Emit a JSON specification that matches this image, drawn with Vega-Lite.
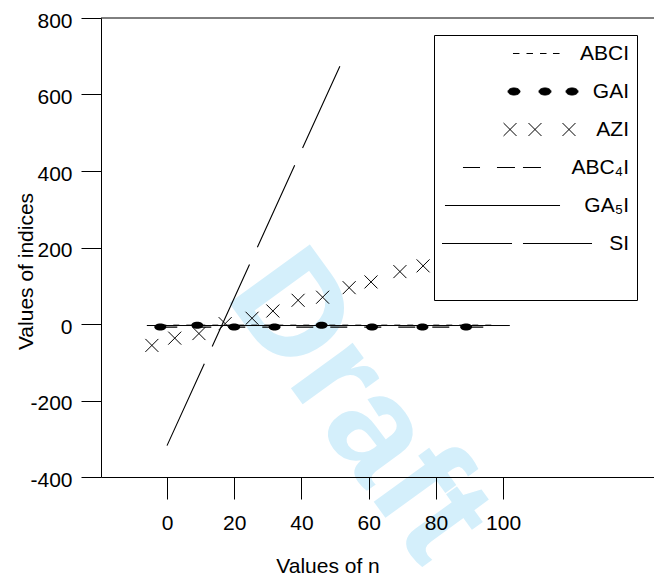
{
  "$schema": "https://vega.github.io/schema/vega-lite/v6.json",
  "width": 553,
  "height": 459,
  "autosize": {"type": "none"},
  "padding": {"left": 101, "top": 18, "right": 0, "bottom": 100},
  "background": "white",
  "config": {
    "font": "Liberation Sans",
    "view": {"stroke": null},
    "axis": {"grid": false, "domainColor": "black", "tickColor": "black", "labelColor": "black", "titleColor": "black", "labelFontSize": 21, "titleFontSize": 21, "titleFontWeight": "normal", "labelFont": "Liberation Sans", "titleFont": "Liberation Sans", "domainWidth": 1, "tickWidth": 1},
    "legend": {"orient": "top-right", "offset": 17, "padding": 8, "strokeColor": "black", "strokeWidth": 1, "fillColor": "white", "labelFontSize": 21, "labelFont": "Liberation Sans", "labelColor": "black", "labelAlign": "right", "labelOffset": 26, "symbolSize": 25600, "symbolStrokeWidth": 1, "symbolOpacity": 1, "clipHeight": 21, "rowPadding": 16, "labelLimit": 300}
  },
  "data": {"values": [
    {"series": "ABCI", "n": -2, "value": -3}, {"series": "ABCI", "n": 9, "value": -3}, {"series": "ABCI", "n": 20, "value": -3}, {"series": "ABCI", "n": 32, "value": -3}, {"series": "ABCI", "n": 46, "value": -3}, {"series": "ABCI", "n": 61, "value": -3}, {"series": "ABCI", "n": 76, "value": -3}, {"series": "ABCI", "n": 89, "value": -3}, {"series": "ABCI", "n": 98, "value": -3},
    {"series": "GAI", "n": -2, "value": -8}, {"series": "GAI", "n": 9, "value": -3}, {"series": "GAI", "n": 20, "value": -8}, {"series": "GAI", "n": 32, "value": -8}, {"series": "GAI", "n": 46, "value": -3}, {"series": "GAI", "n": 61, "value": -8}, {"series": "GAI", "n": 76, "value": -8}, {"series": "GAI", "n": 89, "value": -8},
    {"series": "AZI", "n": -4.5, "value": -56}, {"series": "AZI", "n": 2.3, "value": -37}, {"series": "AZI", "n": 9.5, "value": -25}, {"series": "AZI", "n": 17.3, "value": 1}, {"series": "AZI", "n": 25.3, "value": 15}, {"series": "AZI", "n": 31.5, "value": 34}, {"series": "AZI", "n": 39, "value": 62}, {"series": "AZI", "n": 46.3, "value": 70}, {"series": "AZI", "n": 54.2, "value": 95}, {"series": "AZI", "n": 60.7, "value": 110}, {"series": "AZI", "n": 69.3, "value": 137}, {"series": "AZI", "n": 76.2, "value": 152},
    {"series": "ABC₄I", "n": -2, "value": -8}, {"series": "ABC₄I", "n": 20, "value": -8}, {"series": "ABC₄I", "n": 46, "value": -8}, {"series": "ABC₄I", "n": 76, "value": -8}, {"series": "ABC₄I", "n": 98, "value": -8},
    {"series": "GA₅I", "n": -6, "value": -4}, {"series": "GA₅I", "n": 20, "value": -4}, {"series": "GA₅I", "n": 46, "value": -4}, {"series": "GA₅I", "n": 76, "value": -4}, {"series": "GA₅I", "n": 102, "value": -4},
    {"series": "SI", "n": 0, "value": -318}, {"series": "SI", "n": 52, "value": 685}
  ]},
  "layer": [
    {
      "data": {"values": [{"t": "Draft"}]},
      "mark": {"type": "text", "angle": 54, "fontSize": 145, "fontWeight": "bold", "color": "#d4effb", "font": "Liberation Sans", "align": "center", "baseline": "middle"},
      "encoding": {
        "x": {"datum": 57, "type": "quantitative", "scale": {"domain": [-19.64, 144.9], "nice": false, "zero": false},
              "axis": {"zindex": 1, "values": [0, 20, 40, 60, 80, 100], "tickSize": 22, "labelPadding": 13, "title": "Values of n", "titleX": 226.5, "titleY": 95, "titleBaseline": "alphabetic"}},
        "y": {"datum": -215, "type": "quantitative", "scale": {"domain": [-400, 800], "nice": false, "zero": false},
              "axis": {"zindex": 1, "values": [-400, -200, 0, 200, 400, 600, 800], "labelExpr": "datum.value + ''", "tickSize": 20, "labelPadding": 9, "labelOffset": 3, "title": "Values of indices", "titleX": -69, "titleY": 253, "titleBaseline": "alphabetic"}},
        "text": {"field": "t"}
      }
    },
    {
      "data": {"values": [{}]},
      "mark": {"type": "rule", "color": "black", "strokeWidth": 1},
      "encoding": {"y": {"datum": 800, "type": "quantitative"}}
    },
    {
      "transform": [{"filter": "datum.series === 'GA₅I'"}],
      "mark": {"type": "line", "color": "black", "strokeWidth": 1},
      "encoding": {"x": {"field": "n", "type": "quantitative"}, "y": {"field": "value", "type": "quantitative"}}
    },
    {
      "transform": [{"filter": "datum.series === 'ABCI'"}],
      "mark": {"type": "line", "color": "black", "strokeWidth": 1, "strokeDash": [6, 7]},
      "encoding": {"x": {"field": "n", "type": "quantitative"}, "y": {"field": "value", "type": "quantitative"}}
    },
    {
      "transform": [{"filter": "datum.series === 'ABC₄I'"}],
      "mark": {"type": "line", "color": "black", "strokeWidth": 1.2, "strokeDash": [17, 17]},
      "encoding": {"x": {"field": "n", "type": "quantitative"}, "y": {"field": "value", "type": "quantitative"}}
    },
    {
      "transform": [{"filter": "datum.series === 'SI'"}],
      "mark": {"type": "line", "color": "black", "strokeWidth": 1.1, "strokeDash": [90, 19]},
      "encoding": {"x": {"field": "n", "type": "quantitative"}, "y": {"field": "value", "type": "quantitative"}}
    },
    {
      "transform": [{"filter": "datum.series === 'GAI'"}],
      "mark": {"type": "point", "shape": "M-1,0A1,0.58 0 1,0 1,0A1,0.58 0 1,0 -1,0Z", "filled": true, "color": "black", "size": 144, "opacity": 1},
      "encoding": {"x": {"field": "n", "type": "quantitative"}, "y": {"field": "value", "type": "quantitative"}}
    },
    {
      "transform": [{"filter": "datum.series === 'AZI'"}],
      "mark": {"type": "point", "shape": "M-1,-1L1,1M-1,1L1,-1", "filled": false, "color": "black", "size": 169, "strokeWidth": 1, "opacity": 1},
      "encoding": {"x": {"field": "n", "type": "quantitative"}, "y": {"field": "value", "type": "quantitative"}}
    },
    {
      "mark": {"type": "point", "fill": "black", "stroke": "black", "strokeWidth": 1, "opacity": 0},
      "encoding": {
        "x": {"field": "n", "type": "quantitative"},
        "y": {"field": "value", "type": "quantitative"},
        "shape": {
          "field": "series", "type": "nominal",
          "scale": {
            "domain": ["ABCI", "GAI", "AZI", "ABC₄I", "GA₅I", "SI", " "],
            "range": [
              "M-0.119,0H-0.038M0.05,0H0.131M0.219,0H0.3M0.381,0H0.463",
              "M-0.181,0A0.075,0.044 0 1,0 -0.031,0A0.075,0.044 0 1,0 -0.181,0ZM0.206,0A0.075,0.044 0 1,0 0.356,0A0.075,0.044 0 1,0 0.206,0ZM0.544,0A0.075,0.044 0 1,0 0.694,0A0.075,0.044 0 1,0 0.544,0Z",
              "M-0.237,-0.081L-0.075,0.081M-0.237,0.081L-0.075,-0.081M0.075,-0.081L0.237,0.081M0.075,0.081L0.237,-0.081M0.5,-0.081L0.662,0.081M0.5,0.081L0.662,-0.081",
              "M-0.744,0H-0.531M-0.319,0H-0.094M0.006,0H0.231",
              "M-0.969,0H0.469",
              "M-1.019,0H-0.131M0.006,0H0.869",
              "M0,0"
            ]
          },
          "legend": {"title": null}
        }
      }
    }
  ]
}
